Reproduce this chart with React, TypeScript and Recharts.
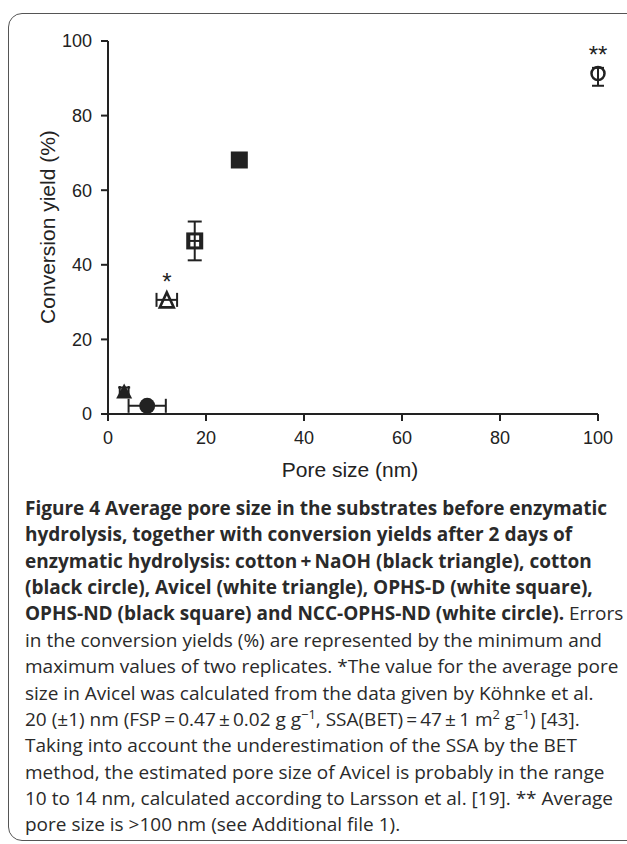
import React from 'react';
import { ScatterChart, Scatter, XAxis, YAxis, ErrorBar } from 'recharts';

// ---- data ----
const xTicks = [0, 20, 40, 60, 80, 100];
const yTicks = [0, 20, 40, 60, 80, 100];

const cottonNaOH = [{ x: 3.3, y: 5.9, xErr: 0.9, yErr: 1.2 }];
const cotton = [{ x: 8.0, y: 2.2, xErr: 3.8 }];
const avicel = [{ x: 12.0, y: 30.6, xErr: 2.1, note: '*' }];
const ophsD = [{ x: 17.7, y: 46.4, xErr: 1.1, yErr: 5.2 }];
const ophsND = [{ x: 26.8, y: 68.1 }];
const nccOphsND = [{ x: 100, y: 91.3, yErr: [3.3, 1.5], note: '**' }];

const INK = '#222';
const AXIS_FONT = '"Liberation Sans", Arial, Helvetica, sans-serif';
const CAP_FONT = '"Open Sans", "Noto Sans", sans-serif';

const Note = ({ cx, cy, text, dy }: any) =>
  text ? (
    <text x={cx} y={cy - dy} textAnchor="middle" fontFamily={AXIS_FONT} fontSize={24} fill={INK}>
      {text}
    </text>
  ) : null;

const BlackTriangle = (p: any) => {
  const { cx, cy } = p;
  const w = 16, h = 15;
  return (
    <polygon points={`${cx},${cy - h / 2 - 1} ${cx - w / 2},${cy + h / 2 - 1} ${cx + w / 2},${cy + h / 2 - 1}`} fill={INK} />
  );
};

const WhiteTriangle = (p: any) => {
  const { cx, cy, payload } = p;
  const w = 14, h = 13;
  return (
    <g>
      <polygon
        points={`${cx},${cy - h / 2 - 1} ${cx - w / 2},${cy + h / 2 + 1} ${cx + w / 2},${cy + h / 2 + 1}`}
        fill="none"
        stroke={INK}
        strokeWidth={2.6}
        strokeLinejoin="miter"
      />
      <Note cx={cx} cy={cy} text={payload.note} dy={10} />
    </g>
  );
};

const BlackCircle = (p: any) => <circle cx={p.cx} cy={p.cy} r={8} fill={INK} />;

const WhiteCircle = (p: any) => (
  <g>
    <circle cx={p.cx} cy={p.cy} r={6.5} fill="none" stroke={INK} strokeWidth={2.5} />
    <Note cx={p.cx} cy={p.cy} text={p.payload.note} dy={10} />
  </g>
);

const WhiteSquare = (p: any) => (
  <rect x={p.cx - 7} y={p.cy - 7} width={14} height={14} fill="none" stroke={INK} strokeWidth={3} />
);

const BlackSquare = (p: any) => (
  <rect x={p.cx - 8.5} y={p.cy - 8.5} width={17} height={17} fill={INK} />
);

const eb = { stroke: INK, strokeWidth: 2, isAnimationActive: false } as any;

const sup = { fontSize: '0.68em', verticalAlign: '0.55em', lineHeight: 0 } as React.CSSProperties;

export default function App() {
  const lineH = 26.4;
  const lines: React.ReactNode[] = [
    <b key="1">Figure 4 Average pore size in the substrates before enzymatic</b>,
    <b key="2">hydrolysis, together with conversion yields after 2 days of</b>,
    <b key="3">enzymatic hydrolysis: cotton{'\u2009'}+{'\u2009'}NaOH (black triangle), cotton</b>,
    <b key="4">(black circle), Avicel (white triangle), OPHS-D (white square),</b>,
    <span key="5"><b>OPHS-ND (black square) and NCC-OPHS-ND (white circle).</b> Errors</span>,
    <span key="6">in the conversion yields (%) are represented by the minimum and</span>,
    <span key="7">maximum values of two replicates. *The value for the average pore</span>,
    <span key="8">size in Avicel was calculated from the data given by Köhnke et al.</span>,
    <span key="9">
      20 (±1) nm (FSP{'\u2009'}={'\u2009'}0.47{'\u2009'}±{'\u2009'}0.02 g g<span style={sup}>−1</span>, SSA(BET){'\u2009'}={'\u2009'}47{'\u2009'}±{'\u2009'}1 m<span style={sup}>2</span> g<span style={sup}>−1</span>) [43].
    </span>,
    <span key="10">Taking into account the underestimation of the SSA by the BET</span>,
    <span key="11">method, the estimated pore size of Avicel is probably in the range</span>,
    <span key="12">10 to 14 nm, calculated according to Larsson et al. [19]. ** Average</span>,
    <span key="13">pore size is &gt;100 nm (see Additional file 1).</span>,
  ];

  return (
    <div style={{ position: 'relative', width: 627, height: 844, overflow: 'hidden', background: '#fff' }}>
      <style>{'body{margin:0;}'}</style>
      <div
        style={{
          position: 'absolute',
          left: 8,
          top: 13,
          width: 640,
          height: 828,
          border: '1.5px solid #555',
          borderRadius: 14,
          boxSizing: 'border-box',
        }}
      />
      <div style={{ position: 'absolute', left: 0, top: 0 }}>
        <ScatterChart width={627} height={480} margin={{ top: 41, right: 29, bottom: 26, left: 0 }}>
          <XAxis
            type="number"
            dataKey="x"
            domain={[0, 100]}
            ticks={xTicks}
            interval={0}
            tickSize={7}
            tickMargin={10}
            height={40}
            axisLine={{ stroke: INK, strokeWidth: 2 }}
            tickLine={{ stroke: INK, strokeWidth: 2 }}
            tick={{ fill: INK, fontSize: 18, fontFamily: AXIS_FONT }}
          />
          <YAxis
            type="number"
            dataKey="y"
            domain={[0, 100]}
            ticks={yTicks}
            interval={0}
            tickSize={7}
            tickMargin={9}
            width={108}
            axisLine={{ stroke: INK, strokeWidth: 2 }}
            tickLine={{ stroke: INK, strokeWidth: 2 }}
            tick={{ fill: INK, fontSize: 18, fontFamily: AXIS_FONT }}
          />
          <Scatter name="cotton + NaOH" data={cottonNaOH} shape={BlackTriangle} isAnimationActive={false}>
            <ErrorBar dataKey="xErr" direction="x" width={6} {...eb} />
            <ErrorBar dataKey="yErr" direction="y" width={6} {...eb} />
          </Scatter>
          <Scatter name="cotton" data={cotton} shape={BlackCircle} isAnimationActive={false}>
            <ErrorBar dataKey="xErr" direction="x" width={7} {...eb} />
          </Scatter>
          <Scatter name="Avicel" data={avicel} shape={WhiteTriangle} isAnimationActive={false}>
            <ErrorBar dataKey="xErr" direction="x" width={7} {...eb} />
          </Scatter>
          <Scatter name="OPHS-D" data={ophsD} shape={WhiteSquare} isAnimationActive={false}>
            <ErrorBar dataKey="xErr" direction="x" width={6} {...eb} />
            <ErrorBar dataKey="yErr" direction="y" width={7} {...eb} />
          </Scatter>
          <Scatter name="OPHS-ND" data={ophsND} shape={BlackSquare} isAnimationActive={false} />
          <Scatter name="NCC-OPHS-ND" data={nccOphsND} shape={WhiteCircle} isAnimationActive={false}>
            <ErrorBar dataKey="yErr" direction="y" width={6} {...eb} />
          </Scatter>
        </ScatterChart>
      </div>
      <div
        style={{
          position: 'absolute',
          left: 350,
          top: 470,
          transform: 'translate(-50%, -50%)',
          fontFamily: AXIS_FONT,
          fontSize: 21,
          color: INK,
          whiteSpace: 'nowrap',
        }}
      >
        Pore size (nm)
      </div>
      <div
        style={{
          position: 'absolute',
          left: 48,
          top: 227,
          transform: 'translate(-50%, -50%) rotate(-90deg)',
          fontFamily: AXIS_FONT,
          fontSize: 21,
          color: INK,
          whiteSpace: 'nowrap',
        }}
      >
        Conversion yield (%)
      </div>
      <div
        style={{
          position: 'absolute',
          left: 25,
          top: 508 - lineH / 2,
          fontFamily: CAP_FONT,
          fontSize: 19,
          lineHeight: `${lineH}px`,
          color: '#2a2a2a',
        }}
      >
        {lines.map((l, i) => (
          <div key={i} style={{ whiteSpace: 'nowrap', height: lineH }}>
            {l}
          </div>
        ))}
      </div>
    </div>
  );
}
